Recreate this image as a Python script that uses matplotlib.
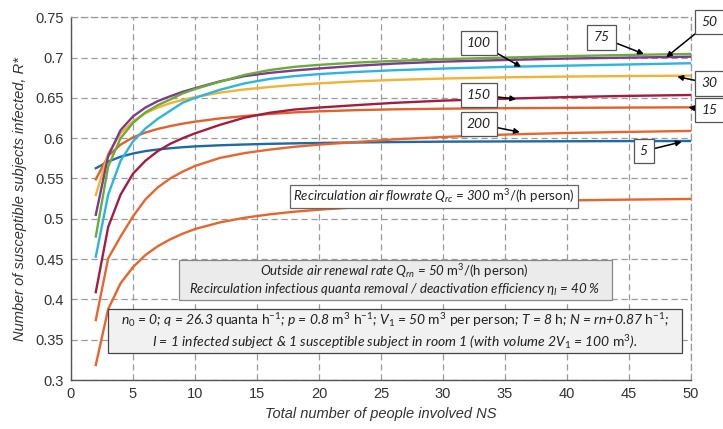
import matplotlib
matplotlib.use("Agg")
import matplotlib.pyplot as plt
from matplotlib.patches import Rectangle

plt.rcParams['font.family'] = ['Liberation Sans', 'DejaVu Sans']
plt.rcParams['mathtext.fontset'] = 'custom'
plt.rcParams['mathtext.rm'] = 'Lato'
plt.rcParams['mathtext.it'] = 'Lato:italic'

NS = [2, 3, 4, 5, 6, 7, 8, 9, 10, 12, 14, 16, 18, 20, 23, 26, 30, 35, 40, 45, 50]
r_5   = [.5627, .571, .577, .581, .584, .586, .5875, .5888, .5898, .5912, .5922, .593, .5936, .5941, .5947, .5952, .5957, .596, .5962, .5964, .5965]
r_15  = [.549, .578, .592, .601, .607, .6115, .615, .618, .6205, .6245, .6275, .630, .632, .6333, .6348, .6358, .6366, .6372, .6376, .638, .6383]
r_30  = [.5295, .581, .606, .621, .631, .638, .6435, .6475, .651, .6565, .6605, .6635, .666, .668, .6705, .6723, .674, .6755, .6765, .6771, .6776]
r_50  = [.478, .565, .600, .619, .632, .641, .648, .6555, .661, .670, .6785, .6845, .6885, .691, .6938, .6958, .698, .700, .7018, .7033, .7045]
r_75  = [.505, .578, .610, .627, .638, .646, .652, .6575, .662, .6705, .677, .681, .684, .6865, .6898, .6925, .695, .697, .6988, .700, .7011]
r_100 = [.453, .530, .572, .596, .612, .624, .634, .644, .650, .660, .668, .6735, .677, .6795, .6822, .6843, .6864, .6885, .690, .6915, .693]
r_150 = [.409, .490, .530, .556, .572, .584, .593, .600, .606, .6165, .6255, .6315, .6355, .638, .641, .6438, .6466, .649, .651, .6525, .6536]
r_200 = [.3744, .451, .478, .503, .524, .539, .550, .5585, .5655, .5755, .5815, .5858, .5893, .592, .5952, .5985, .6015, .6045, .6065, .6078, .609]
r_300 = [.3186, .388, .420, .440, .455, .466, .4745, .4815, .4873, .4955, .5013, .5055, .5088, .5113, .5143, .5167, .519, .521, .5228, .5238, .5246]

series = [
    ("5", r_5, '#1d6aa5'),
    ("15", r_15, '#e4602a'),
    ("30", r_30, '#f2b233'),
    ("75", r_75, '#7d3a8e'),
    ("50", r_50, '#6aab3c'),
    ("100", r_100, '#2bb5e3'),
    ("150", r_150, '#a31d41'),
    ("200", r_200, '#e8662e'),
    ("300", r_300, '#e8642a'),
]

x_ticks = [0, 5, 10, 15, 20, 25, 30, 35, 40, 45, 50]
y_ticks = [0.3, 0.35, 0.4, 0.45, 0.5, 0.55, 0.6, 0.65, 0.7, 0.75]
y_ticklabels = ["0.3", "0.35", "0.4", "0.45", "0.5", "0.55", "0.6", "0.65", "0.7", "0.75"]

fig = plt.figure(figsize=(7.23, 4.29), dpi=100)
ax = fig.add_axes([0.0982, 0.1142, 0.8575, 0.8455])
ax.set_xlim(0, 50)
ax.set_ylim(0.3, 0.75)
ax.set_xticks(x_ticks)
ax.set_yticks(y_ticks)
ax.set_yticklabels(y_ticklabels)
ax.tick_params(length=0, pad=5, labelsize=10.5, colors='#333333')
ax.grid(True, color='#9a9a9a', linestyle=(0, (5, 3)), linewidth=0.9)
for s in ['top', 'right']:
    ax.spines[s].set_color('#9a9a9a')
    ax.spines[s].set_linestyle((0, (5, 3)))
    ax.spines[s].set_linewidth(0.9)
for s in ['left', 'bottom']:
    ax.spines[s].set_color('#555555')
    ax.spines[s].set_linewidth(1.0)
ax.set_axisbelow(True)

for name, vals, col in series:
    ax.plot(NS, vals, color=col, lw=1.7, solid_joinstyle='round', zorder=3)

ax.set_xlabel("Total number of people involved NS", style='italic', fontsize=10.5,
              color='#333333', labelpad=4)
ax.set_ylabel("Number of susceptible subjects infected, R*", style='italic', fontsize=10.5,
              color='#333333', labelpad=6)

# info boxes
tfont = dict(family=['Lato', 'DejaVu Sans'], style='italic', color='#222222')
ax.add_patch(Rectangle((17.66, 0.5134), 23.23, 0.0285, facecolor='white',
                       edgecolor='#666666', lw=0.9, zorder=4))
ax.text(29.27, 0.5277, r"Recirculation air flowrate $Q_{rc}$ = 300 $\mathrm{m^3/(h\ person)}$",
        ha='center', va='center', fontsize=9.5, zorder=5, **tfont)

ax.add_patch(Rectangle((8.71, 0.3993), 34.92, 0.0496, facecolor='#ebebeb',
                       edgecolor='#888888', lw=0.9, zorder=4))
ax.text(26.1, 0.424,
        "Outside air renewal rate $Q_{rn}$ = 50 $\\mathrm{m^3/(h\\ person)}$\n"
        "Recirculation infectious quanta removal / deactivation efficiency $\\eta_I$ = 40 %",
        ha='center', va='center', fontsize=9.5, linespacing=1.2, zorder=5, **tfont)

ax.add_patch(Rectangle((3.0, 0.3331), 46.25, 0.0546, facecolor='#f1f1f1',
                       edgecolor='#444444', lw=0.9, zorder=4))
ax.text(26.1, 0.3608,
        "$n_0$ = 0; q = 26.3 $\\mathrm{quanta\\ h^{-1}}$; p = 0.8 $\\mathrm{m^3\\ h^{-1}}$; "
        "$V_1$ = 50 $\\mathrm{m^3\\ per\\ person}$; T = 8 $\\mathrm{h}$; N = rn+0.87 $\\mathrm{h^{-1}}$;\n"
        "I = 1 infected subject & 1 susceptible subject in room 1 (with volume 2$V_1$ = 100 $\\mathrm{m^3}$).",
        ha='center', va='center', fontsize=10.0, linespacing=1.25, zorder=5, **tfont)

# curve labels
labels = [
    ("100", (32.9, 0.718), (36.3, 0.6885)),
    ("75", (42.8, 0.725), (46.2, 0.7045)),
    ("50", (51.5, 0.744), (48.0, 0.7004)),
    ("30", (51.5, 0.668), (48.9, 0.6763)),
    ("15", (51.5, 0.635), (49.8, 0.6383)),
    ("150", (32.9, 0.6536), (35.9, 0.6486)),
    ("200", (32.9, 0.6176), (36.2, 0.6075)),
    ("5", (46.2, 0.584), (49.25, 0.5955)),
]
for txt, tpos, apos in labels:
    ax.annotate(txt, xy=apos, xytext=tpos, ha='center', va='center', fontsize=10,
                annotation_clip=False, zorder=6,
                bbox=dict(boxstyle='square,pad=0.45', fc='white', ec='#555555', lw=0.9),
                arrowprops=dict(arrowstyle='-|>', color='black', lw=1.1, mutation_scale=8,
                                shrinkA=0, shrinkB=0),
                **tfont)

fig.savefig("out.png", dpi=100)
